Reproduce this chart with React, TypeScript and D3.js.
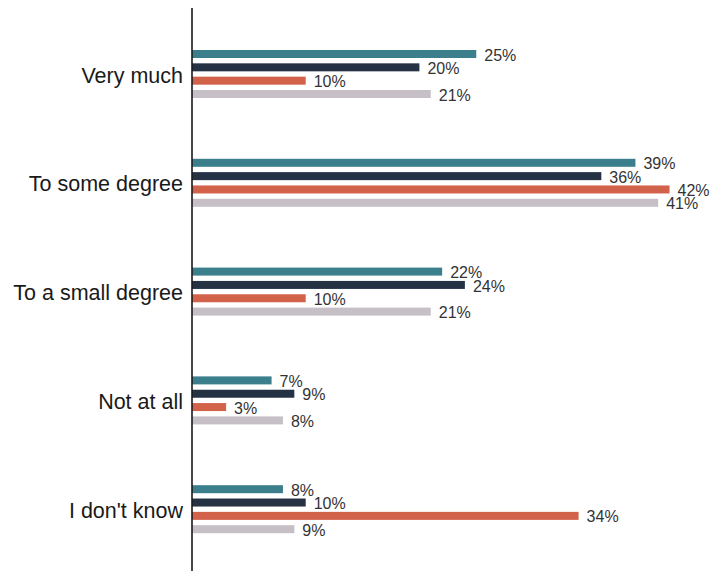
import React from "react";
import * as d3 from "d3";

const categories = ["Very much", "To some degree", "To a small degree", "Not at all", "I don't know"];
const seriesNames = ["Group 1", "Group 2", "Group 3", "Group 4"];
const seriesColors = ["#3b7f8d", "#243244", "#d2634a", "#c6c0c6"];
const group1 = [25, 39, 22, 7, 8];
const group2 = [20, 36, 24, 9, 10];
const group3 = [10, 42, 10, 3, 34];
const group4 = [21, 41, 21, 8, 9];
const seriesValues = [group1, group2, group3, group4];

const W = 712;
const H = 571;

export default function App() {
  const axisX = 192;
  const x = d3.scaleLinear().domain([0, 50]).range([axisX, axisX + 50 * 11.37]);
  const y = d3.scaleBand<string>().domain(categories).range([19.6, 563.6]).padding(0);
  const inner = d3.scaleBand<string>().domain(seriesNames).range([-26.67, 26.67]).padding(0);
  const barH = 8;

  return (
    <svg width={W} height={H} style={{ position: "absolute", left: 0, top: 0, background: "#fff" }}>
      {categories.map((cat, ci) => {
        const cy = (y(cat) as number) + y.bandwidth() / 2;
        return (
          <g key={cat}>
            {seriesNames.map((s, si) => {
              const v = seriesValues[si][ci];
              const bc = cy + (inner(s) as number) + inner.bandwidth() / 2;
              return (
                <g key={s}>
                  <rect x={x(0)} y={bc - barH / 2} width={x(v) - x(0)} height={barH} fill={seriesColors[si]} />
                  <text
                    x={x(v) + 8}
                    y={bc + 1}
                    dy="0.35em"
                    fontFamily="Liberation Sans, Arial, sans-serif"
                    fontSize={16}
                    fill="#333"
                  >
                    {v}%
                  </text>
                </g>
              );
            })}
            <text
              x={183}
              y={cy + 1}
              dy="0.35em"
              textAnchor="end"
              fontFamily="Liberation Sans, Arial, sans-serif"
              fontSize={21.5}
              fill="#1a1a1a"
            >
              {cat}
            </text>
          </g>
        );
      })}
      <line x1={axisX} x2={axisX} y1={8} y2={H} stroke="#1a1a1a" strokeWidth={1.6} />
    </svg>
  );
}
